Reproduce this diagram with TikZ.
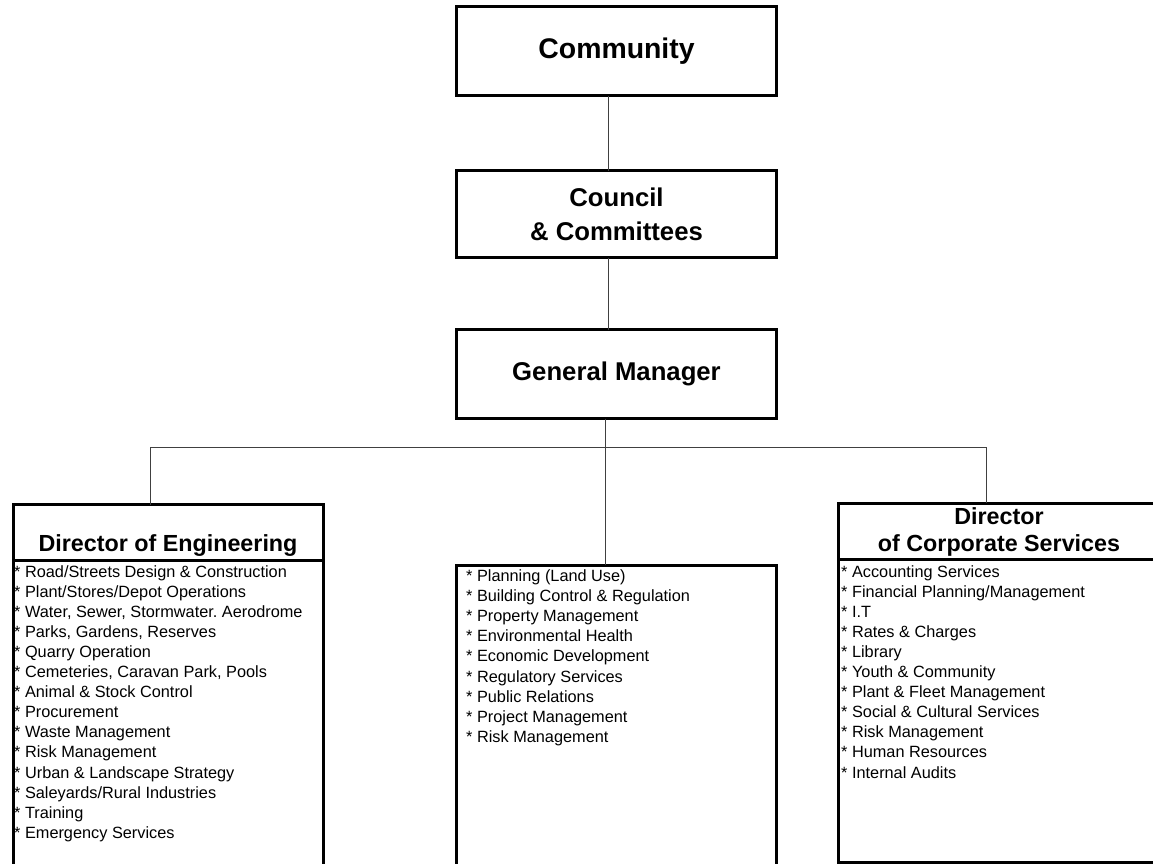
\documentclass[tikz,border=0pt]{standalone}
\usepackage{fontspec}
\setmainfont{Liberation Sans}
\usetikzlibrary{positioning}
\definecolor{linkGray}{gray}{0.25}
\frenchspacing

\tikzset{
  unitbox/.style={draw, line width=3pt, outer sep=0pt, inner sep=0pt, minimum width=320pt,
    align=center, font=\bfseries\fontsize{25.7}{34}\selectfont},
  headbox/.style={draw, line width=3pt, outer sep=0pt, inner sep=0pt, align=center,
    font=\bfseries\fontsize{23.3}{27}\selectfont},
  bodybox/.style={draw, line width=3pt, outer sep=0pt, inner sep=0pt},
  dutylist/.style={inner sep=0pt, anchor=north west, align=left,
    font=\fontsize{16.3}{20.1}\selectfont},
  link/.style={line width=1pt, linkGray},
}

\begin{document}
\begin{tikzpicture}[x=1pt, y=-1pt]
        \useasboundingbox (0,0) rectangle (1153,864);
        \clip (0,0) rectangle (1153,864);

        % top of the chart
        \node[unitbox, minimum height=89pt, font=\bfseries\fontsize{28.4}{34}\selectfont] (community) at (616.5,51.5) {Community};
        \node[unitbox, minimum height=87pt] (council) at (616.5,214) {Council\\\& Committees};
        \node[unitbox, minimum height=89pt] (manager) at (616.5,374) {General Manager};

        % directors
        \node[headbox, minimum width=310pt, minimum height=55.5pt] (engineering) at (168,532.5) {\phantom{Director}\\Director of Engineering};
        \node[bodybox, minimum width=310pt, minimum height=310pt, anchor=north] (engbody) at (engineering.south) {};
        \node[bodybox, minimum width=320pt, minimum height=305pt, anchor=north] (planning) at (616.5,565) {};
        \node[headbox, minimum width=322pt, minimum height=56.5pt] (corporate) at (999,531.5) {Director\\of Corporate Services};
        \node[bodybox, minimum width=322pt, minimum height=302.5pt, anchor=north] (corpbody) at (corporate.south) {};

        % duties
        \node[dutylist] (englist) at (14,565) {%
          * Road/Streets Design \& Construction\\
          * Plant/Stores/Depot Operations\\
          * Water, Sewer, Stormwater. Aerodrome\\
          * Parks, Gardens, Reserves\\
          * Quarry Operation\\
          * Cemeteries, Caravan Park, Pools\\
          * Animal \& Stock Control\\
          * Procurement\\
          * Waste Management\\
          * Risk Management\\
          * Urban \& Landscape Strategy\\
          * Saleyards/Rural Industries\\
          * Training\\
          * Emergency Services};
        \node[dutylist] (planlist) at (466,569.5) {%
          * Planning (Land Use)\\
          * Building Control \& Regulation\\
          * Property Management\\
          * Environmental Health\\
          * Economic Development\\
          * Regulatory Services\\
          * Public Relations\\
          * Project Management\\
          * Risk Management};
        \node[dutylist] (corplist) at (841,565) {%
          * Accounting Services\\
          * Financial Planning/Management\\
          * I.T\\
          * Rates \& Charges\\
          * Library\\
          * Youth \& Community\\
          * Plant \& Fleet Management\\
          * Social \& Cultural Services\\
          * Risk Management\\
          * Human Resources\\
          * Internal Audits};

        % connectors
        \coordinate (spine) at (608,0);
        \coordinate (bus) at (605,447);
        \coordinate (engdrop) at (150,447);
        \coordinate (corpdrop) at (986.5,447);
        \draw[link] (community.south -| spine) -- (council.north -| spine);
        \draw[link] (council.south -| spine) -- (manager.north -| spine);
        \draw[link] (manager.south -| bus) -- (planning.north -| bus);
        \draw[link] (engineering.north -| engdrop) -- (engdrop) -- (corpdrop) -- (corporate.north -| corpdrop);
    \end{tikzpicture}
\end{document}
